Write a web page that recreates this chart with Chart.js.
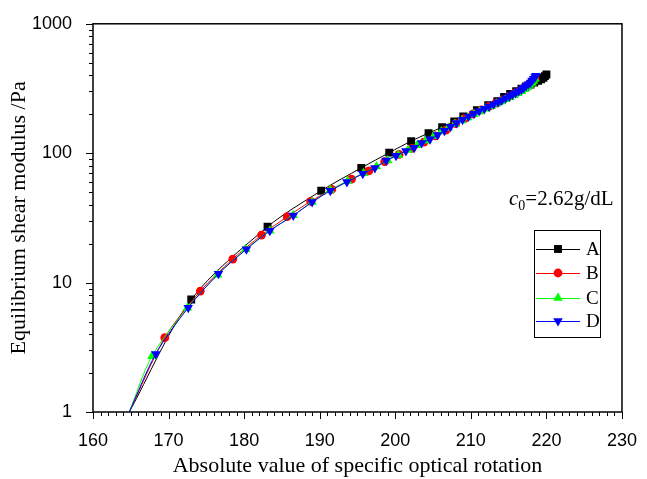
<!DOCTYPE html>
<html>
<head>
<meta charset="utf-8">
<script src="https://cdn.jsdelivr.net/npm/chart.js@4.4.0/dist/chart.umd.min.js"></script>
<style>
  html, body { margin: 0; padding: 0; background: #fff; }
</style>
</head>
<body>
<canvas id="chart" width="647" height="479"></canvas>
<script>
// tick labels
const xTickLabels = [160, 170, 180, 190, 200, 210, 220, 230];
const yTickLabels = [1, 10, 100, 1000];

// first point of every series is where its fitted curve meets the bottom axis (no marker there)
const xA = [164.8, 173.0, 183.1, 190.2, 195.5, 199.2, 202.1, 204.4, 206.2, 207.8, 209.0, 210.8, 212.3, 213.5, 214.4,
  215.2, 216.0, 216.7, 217.3, 217.9, 218.4, 218.9, 219.3, 219.6, 219.8, 220.0];
const yA = [1, 7.4, 27, 51.3, 77, 101, 124, 143, 159, 176, 192, 215, 235, 252, 272,
  287, 301, 315, 328, 340, 352, 362, 372, 383, 394, 406];

const xB = [164.8, 169.5, 174.2, 178.5, 182.3, 185.7, 188.8, 191.6, 194.2, 196.5, 198.6, 200.5, 202.2, 203.8, 205.3,
  206.7, 208.0, 209.2, 210.3, 211.4, 212.4, 213.3, 214.2, 215.0, 215.8, 216.5, 217.1, 217.6, 218.0, 218.3, 218.5];
const yB = [1, 3.75, 8.6, 15.2, 23.3, 32.3, 42.4, 52.5, 63, 73, 86, 98, 109, 122, 136,
  151, 169, 186, 201, 216, 230, 244, 258, 273, 290, 305, 321, 338, 354, 368, 381];

const xC = [164.8, 167.8, 172.5, 176.5, 180.2, 183.4, 186.5, 189.0, 191.4, 193.7, 195.8, 197.5, 199.0, 200.4, 201.7,
  202.9, 204.0, 205.1, 206.1, 207.0, 207.9, 208.8, 209.6, 210.4, 211.2, 212.0, 212.7, 213.4, 214.0, 214.6, 215.2,
  215.7, 216.2, 216.7, 217.1, 217.5, 217.8, 218.1, 218.3, 218.5];
const yC = [1, 2.7, 6.4, 11.5, 18.1, 25.2, 33.2, 41.9, 52, 61, 70, 79, 88, 97, 106,
  115, 125, 136, 147, 157, 168, 179, 189, 200, 210, 221, 231, 241, 251, 261, 271,
  281, 291, 301, 312, 324, 336, 349, 362, 376];

const xD = [164.8, 168.3, 172.6, 176.6, 180.3, 183.4, 186.5, 189.0, 191.4, 193.6, 195.7, 197.3, 198.8, 200.1, 201.4,
  202.5, 203.5, 204.6, 205.6, 206.5, 207.3, 208.1, 208.9, 209.7, 210.4, 211.1, 211.8, 212.4, 213.0, 213.6, 214.1,
  214.6, 215.1, 215.5, 215.9, 216.3, 216.7, 217.0, 217.3, 217.6, 217.9, 218.1, 218.3, 218.5, 218.6];
const yD = [1, 2.81, 6.4, 11.7, 18.1, 25.2, 33, 41.9, 51.3, 60, 69.5, 77, 87.7, 95.6, 104,
  110, 120, 128, 138, 149, 160, 171, 181, 192, 202, 212, 221, 230, 239, 248, 257,
  266, 275, 284, 292, 301, 310, 320, 330, 341, 352, 364, 376, 388, 396];

const series = [
  { label: 'A', xs: xA, ys: yA, color: '#000000', style: 'rect', radius: 5.6, rot: 0 },
  { label: 'B', xs: xB, ys: yB, color: '#FF0000', style: 'circle', radius: 4.4, rot: 0 },
  { label: 'C', xs: xC, ys: yC, color: '#00FF00', style: 'triangle', radius: 5.5, rot: 0 },
  { label: 'D', xs: xD, ys: yD, color: '#0000FF', style: 'triangle', radius: 5.5, rot: 180 }
];

const datasets = series.map((s, i) => ({
  label: s.label,
  data: s.xs.map((x, j) => ({ x: x, y: s.ys[j] })),
  showLine: true,
  borderColor: s.color,
  borderWidth: 1,
  tension: 0.3,
  backgroundColor: s.color,
  pointBackgroundColor: s.color,
  pointBorderColor: s.color,
  pointBorderWidth: 0,
  pointStyle: s.style,
  pointRotation: s.rot,
  pointRadius: (c) => c.dataIndex === 0 ? 0 : s.radius,
  order: series.length - i
}));

function drawMarker(ctx, s, x, y) {
  ctx.fillStyle = s.color;
  ctx.beginPath();
  if (s.style === 'rect') {
    const h = s.radius * Math.SQRT1_2;
    ctx.rect(x - h, y - h, 2 * h, 2 * h);
  } else if (s.style === 'circle') {
    ctx.arc(x, y, s.radius, 0, Math.PI * 2);
  } else {
    const r = s.radius;
    const d = s.rot ? -1 : 1;
    ctx.moveTo(x, y - d * r);
    ctx.lineTo(x + r * 0.866, y + d * r * 0.5);
    ctx.lineTo(x - r * 0.866, y + d * r * 0.5);
    ctx.closePath();
  }
  ctx.fill();
}

const decorations = {
  id: 'decorations',
  afterDraw(chart) {
    const { ctx, chartArea: a, scales: { x, y } } = chart;
    ctx.save();
    ctx.strokeStyle = '#000';
    // ticks
    ctx.lineWidth = 1;
    ctx.beginPath();
    for (let v = xTickLabels[0]; v <= xTickLabels[xTickLabels.length - 1]; v++) {
      const px = Math.round(x.getPixelForValue(v)) + 0.5;
      const len = v % 10 === 0 ? 7 : 4;
      ctx.moveTo(px, a.bottom);
      ctx.lineTo(px, a.bottom + len);
    }
    yTickLabels.forEach((dec, k) => {
      const top = k === yTickLabels.length - 1 ? 1 : 9;
      for (let m = 1; m <= top; m++) {
        const py = Math.round(y.getPixelForValue(m * dec)) + 0.5;
        const len = m === 1 ? 7 : 4;
        ctx.moveTo(a.left, py);
        ctx.lineTo(a.left - len, py);
      }
    });
    ctx.stroke();
    // frame
    ctx.lineWidth = 1.5;
    ctx.strokeRect(a.left, a.top, a.right - a.left, a.bottom - a.top);

    // legend box
    ctx.lineWidth = 1;
    ctx.strokeRect(534.5, 230.5, 66, 107);
    ctx.font = '19px "Liberation Serif"';
    ctx.textBaseline = 'middle';
    ctx.textAlign = 'left';
    const rows = [249, 273, 298, 321];
    series.forEach((s, i) => {
      const ry = rows[i];
      ctx.strokeStyle = s.color;
      ctx.beginPath();
      ctx.moveTo(536, ry + 0.5);
      ctx.lineTo(580, ry + 0.5);
      ctx.stroke();
      drawMarker(ctx, s, 558, ry);
      ctx.fillStyle = '#000';
      ctx.fillText(s.label, 586, ry + 1);
    });

    // concentration note
    ctx.fillStyle = '#000';
    ctx.textBaseline = 'alphabetic';
    ctx.font = 'italic 21px "Liberation Serif"';
    let tx = 509;
    ctx.fillText('c', tx, 205);
    tx += ctx.measureText('c').width;
    ctx.font = '14px "Liberation Serif"';
    ctx.fillText('0', tx, 210);
    tx += ctx.measureText('0').width;
    ctx.font = '21px "Liberation Serif"';
    ctx.fillText('=2.62g/dL', tx, 205);
    ctx.restore();
  }
};

new Chart(document.getElementById('chart'), {
  type: 'scatter',
  data: { datasets: datasets },
  plugins: [decorations],
  options: {
    responsive: false,
    animation: false,
    devicePixelRatio: 1,
    layout: { autoPadding: false, padding: { top: 15, right: 15, left: 0, bottom: 0 } },
    plugins: {
      legend: { display: false },
      tooltip: { enabled: false }
    },
    scales: {
      x: {
        type: 'linear',
        min: 160,
        max: 230,
        afterBuildTicks: (s) => { s.ticks = xTickLabels.map(v => ({ value: v })); },
        afterFit: (s) => { s.height = 67; },
        grid: { display: false },
        border: { display: false },
        ticks: { color: '#000', font: { family: '"Liberation Sans"', size: 18 }, padding: 10, maxRotation: 0 },
        title: {
          display: true,
          text: 'Absolute value of specific optical rotation',
          color: '#000',
          font: { family: '"Liberation Serif"', size: 22 },
          padding: { top: 0, bottom: 0 }
        }
      },
      y: {
        type: 'logarithmic',
        min: 1,
        max: 1000,
        afterBuildTicks: (s) => { s.ticks = yTickLabels.map(v => ({ value: v })); },
        afterFit: (s) => { s.width = 93; },
        grid: { display: false },
        border: { display: false },
        ticks: {
          color: '#000',
          font: { family: '"Liberation Sans"', size: 18 },
          padding: 13,
          callback: (v) => String(v)
        },
        title: {
          display: true,
          text: 'Equilibrium shear modulus /Pa',
          color: '#000',
          font: { family: '"Liberation Serif"', size: 22 },
          padding: { top: 6, bottom: 0 }
        }
      }
    }
  }
});
</script>
</body>
</html>
